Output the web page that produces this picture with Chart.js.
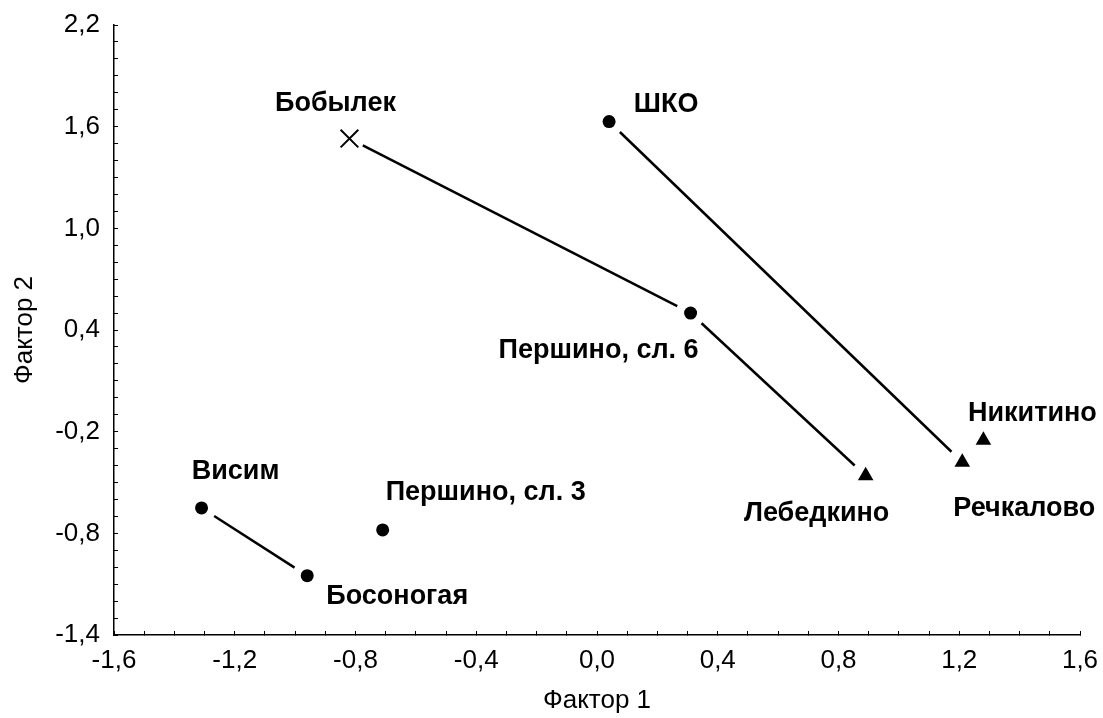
<!DOCTYPE html>
<html>
<head>
<meta charset="utf-8">
<script src="https://cdn.jsdelivr.net/npm/chart.js@4"></script>
<style>
  html, body { margin: 0; padding: 0; background: #fff; }
  #wrap { width: 1103px; height: 718px; }
</style>
</head>
<body>
<div id="wrap"><canvas id="factorChart"></canvas></div>
<script>
// точки (факторные координаты)
var sites   = ['Бобылек', 'ШКО', 'Першино, сл. 6', 'Лебедкино', 'Речкалово', 'Никитино', 'Висим', 'Першино, сл. 3', 'Босоногая'];
var factor1 = [-0.82, 0.04, 0.31, 0.89, 1.21, 1.28, -1.31, -0.71, -0.96];
var factor2 = [1.53, 1.63, 0.50, -0.46, -0.38, -0.25, -0.65, -0.78, -1.05];
var marker  = ['cross', 'dot', 'dot', 'triangle', 'triangle', 'triangle', 'dot', 'dot', 'dot'];

// соединительные линии
var links = [
    ['Бобылек', 'Першино, сл. 6'],
    ['Першино, сл. 6', 'Лебедкино'],
    ['ШКО', 'Речкалово'],
    ['Висим', 'Босоногая']
];

var xTicks = [-1.6, -1.2, -0.8, -0.4, 0.0, 0.4, 0.8, 1.2, 1.6];
var yTicks = [-1.4, -0.8, -0.2, 0.4, 1.0, 1.6, 2.2];

// смещение подписей от точки, px
var labelShift = [[-14, -35], [57, -17], [-92, 37], [-49, 38], [62, 46], [49, -27], [34, -36], [103, -37], [90, 21]];

function pointsOf(type){
    var out = [];
    for (var i = 0; i < sites.length; i++) {
        if (marker[i] == type) out.push({x: factor1[i], y: factor2[i], name: sites[i]});
    }
    return out;
}

function fmt(v){
    if (Math.abs(v) < 1e-9) return '0,0';
    return v.toFixed(1).replace('.', ',');
}

function isMajor(list, v){
    for (var i = 0; i < list.length; i++) {
        if (Math.abs(list[i] - v) < 1e-6) return true;
    }
    return false;
}

var linksPlugin = {
    id: 'links',
    beforeDatasetsDraw: function(chart){
        var ctx = chart.ctx, xs = chart.scales.x, ys = chart.scales.y;
        var gap = 15;
        ctx.save();
        ctx.strokeStyle = '#000';
        ctx.lineWidth = 2.5;
        links.forEach(function(l){
            var a = sites.indexOf(l[0]), b = sites.indexOf(l[1]);
            var x1 = xs.getPixelForValue(factor1[a]), y1 = ys.getPixelForValue(factor2[a]);
            var x2 = xs.getPixelForValue(factor1[b]), y2 = ys.getPixelForValue(factor2[b]);
            var len = Math.hypot(x2 - x1, y2 - y1);
            var ux = (x2 - x1) / len, uy = (y2 - y1) / len;
            ctx.beginPath();
            ctx.moveTo(x1 + ux * gap, y1 + uy * gap);
            ctx.lineTo(x2 - ux * gap, y2 - uy * gap);
            ctx.stroke();
        });
        ctx.restore();
    },
    afterDatasetsDraw: function(chart){
        var ctx = chart.ctx, xs = chart.scales.x, ys = chart.scales.y;
        ctx.save();
        ctx.fillStyle = '#000';
        ctx.font = 'bold 27px "Liberation Sans", Arial, sans-serif';
        ctx.textAlign = 'center';
        ctx.textBaseline = 'middle';
        for (var i = 0; i < sites.length; i++) {
            var px = xs.getPixelForValue(factor1[i]), py = ys.getPixelForValue(factor2[i]);
            ctx.fillText(sites[i], px + labelShift[i][0], py + labelShift[i][1]);
        }
        ctx.restore();
    }
};

Chart.defaults.font.family = '"Liberation Sans", Arial, sans-serif';
Chart.defaults.color = '#000';

new Chart(document.getElementById('factorChart'), {
    type: 'scatter',
    data: {
        datasets: [{
            data: pointsOf('dot'),
            pointStyle: 'circle',
            pointRadius: 6.5,
            pointHoverRadius: 6.5,
            backgroundColor: '#000',
            borderColor: '#000',
            borderWidth: 0
        }, {
            data: pointsOf('triangle'),
            pointStyle: 'triangle',
            pointRadius: 9,
            pointHoverRadius: 9,
            backgroundColor: '#000',
            borderColor: '#000',
            borderWidth: 0
        }, {
            data: pointsOf('cross'),
            pointStyle: 'crossRot',
            pointRadius: 12.5,
            pointHoverRadius: 12.5,
            backgroundColor: '#000',
            borderColor: '#000',
            borderWidth: 2
        }]
    },
    options: {
        responsive: true,
        maintainAspectRatio: false,
        animation: false,
        events: [],
        layout: { padding: { top: 25, right: 23, left: 0, bottom: 0 } },
        plugins: {
            legend: { display: false },
            tooltip: { enabled: false }
        },
        scales: {
            x: {
                type: 'linear',
                min: -1.6,
                max: 1.6,
                afterFit: function(s){
                    s.height = 83;
                    s.paddingLeft = 0;
                    s.paddingRight = 0;
                },
                grid: { drawOnChartArea: false, color: '#000', tickLength: -4, lineWidth: 1 },
                border: { color: '#000', width: 1.5 },
                ticks: {
                    stepSize: 0.1,
                    maxTicksLimit: 100,
                    autoSkip: false,
                    maxRotation: 0,
                    padding: 14,
                    font: { size: 26 },
                    callback: function(v){ return isMajor(xTicks, v) ? fmt(v) : ''; }
                },
                title: {
                    display: true,
                    text: 'Фактор 1',
                    font: { size: 26 },
                    padding: { top: 0, bottom: 2 }
                }
            },
            y: {
                type: 'linear',
                min: -1.4,
                max: 2.2,
                afterFit: function(s){
                    s.width = 114;
                    s.paddingTop = 0;
                    s.paddingBottom = 0;
                },
                grid: { drawOnChartArea: false, color: '#000', tickLength: -4, lineWidth: 1 },
                border: { color: '#000', width: 1.5 },
                ticks: {
                    stepSize: 0.1,
                    maxTicksLimit: 100,
                    autoSkip: false,
                    padding: 18,
                    font: { size: 26 },
                    callback: function(v){ return isMajor(yTicks, v) ? fmt(v) : ''; }
                },
                title: {
                    display: true,
                    text: 'Фактор 2',
                    font: { size: 26 },
                    padding: { top: 9, bottom: 0 }
                }
            }
        }
    },
    plugins: [linksPlugin]
});
</script>
</body>
</html>
